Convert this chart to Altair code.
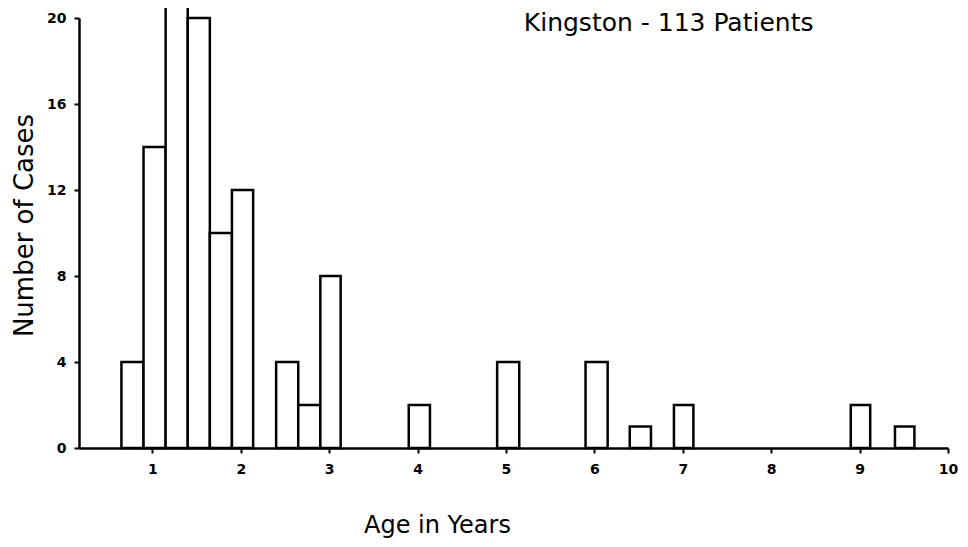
import altair as alt
import pandas as pd

# Age bins (years) and number of cases
bin_start = [0.65, 0.90, 1.15, 1.40, 1.65, 1.90, 2.40, 2.65, 2.90, 3.90, 4.90, 5.90, 6.40, 6.90, 8.90, 9.40]
bin_end   = [0.90, 1.15, 1.40, 1.65, 1.90, 2.14, 2.65, 2.90, 3.13, 4.14, 5.15, 6.15, 6.64, 7.12, 9.12, 9.62]
cases     = [4, 14, 23, 20, 10, 12, 4, 2, 8, 2, 4, 4, 1, 2, 2, 1]

x_ticks = [1, 2, 3, 4, 5, 6, 7, 8, 9, 10]
y_ticks = [0, 4, 8, 12, 16, 20]

title_text = ["Kingston - 113 Patients"]
title_x = [6.84]
title_y = [19.4]

FONT = "DejaVu Sans"

df = pd.DataFrame({"start": bin_start, "end": bin_end, "cases": cases})
tdf = pd.DataFrame({"label": title_text, "x": title_x, "y": title_y})

x_scale = alt.Scale(domain=[0.17, 10], nice=False, zero=False)
y_scale = alt.Scale(domain=[0, 20], nice=False)

bars = alt.Chart(df).mark_bar(
    fill="white", stroke="black", strokeWidth=2.5, clip=False
).encode(
    x=alt.X("start:Q", scale=x_scale, axis=alt.Axis(
        values=x_ticks, format="d", title="Age in Years", grid=False,
        domainColor="black", domainWidth=2.5, tickColor="black", tickWidth=2,
        tickSize=5, labelFont=FONT, labelFontSize=14, labelFontWeight="bold",
        labelColor="black", labelPadding=9, labelBaseline="top", labelFlush=False,
        titleFont=FONT, titleFontSize=24, titleFontWeight="normal", titleColor="black",
        titleX=358, titleY=84, titleAlign="center", titleBaseline="alphabetic",
    )),
    x2="end:Q",
    y=alt.Y("cases:Q", scale=y_scale, axis=alt.Axis(
        values=y_ticks, format="d", title="Number of Cases", grid=False,
        domainColor="black", domainWidth=2.5, tickColor="black", tickWidth=2,
        tickSize=5, labelFont=FONT, labelFontSize=14, labelFontWeight="bold",
        labelColor="black", labelPadding=8, labelFlush=False,
        titleFont=FONT, titleFontSize=26, titleFontWeight="normal", titleColor="black",
        titleAngle=270, titleX=-55, titleY=207, titleAlign="center", titleBaseline="middle",
    )),
    y2=alt.datum(0),
)

title = alt.Chart(tdf).mark_text(
    font=FONT, fontSize=25, color="black", align="center", baseline="alphabetic"
).encode(
    x=alt.X("x:Q", scale=x_scale),
    y=alt.Y("y:Q", scale=y_scale),
    text="label:N",
)

chart = alt.layer(bars, title).properties(
    width=869, height=430,
    autosize=alt.AutoSizeParams(type="none"),
    padding={"left": 71, "top": 10, "right": 12, "bottom": 91},
    background="white",
).configure_view(stroke=None)

chart.save("out.html", embed_options={"renderer": "svg", "actions": False})
